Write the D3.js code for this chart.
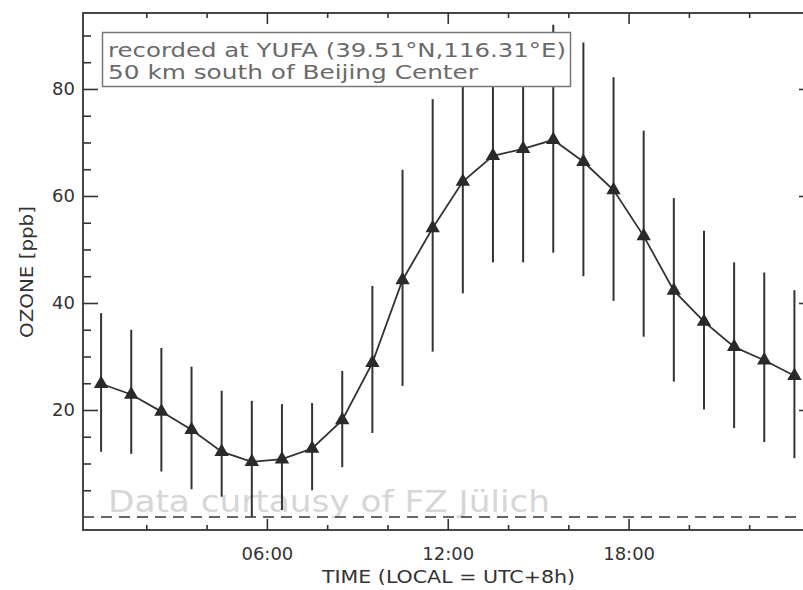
<!DOCTYPE html>
<html>
<head>
<meta charset="utf-8">
<script src="https://cdn.jsdelivr.net/npm/d3@7"></script>
<style>
    body { margin: 0; background: #fff; }
    svg { display: block; }
</style>
</head>
<body>
<div id="chart"></div>
<script>
// hourly means (local time, bin centres) with spread bars
const hours = [0.5, 1.5, 2.5, 3.5, 4.5, 5.5, 6.5, 7.5, 8.5, 9.5, 10.5, 11.5,
    12.5, 13.5, 14.5, 15.5, 16.5, 17.5, 18.5, 19.5, 20.5, 21.5, 22.5, 23.5]
const ozone = [24.9, 22.9, 19.7, 16.3, 12.2, 10.3, 10.8, 12.8, 18.1, 28.8, 44.3, 54.0,
    62.7, 67.5, 68.8, 70.5, 66.4, 61.1, 52.5, 42.3, 36.5, 31.8, 29.3, 26.4]
const upper = [38.1, 35.0, 31.6, 28.1, 23.6, 21.7, 21.1, 21.3, 27.3, 43.2, 64.9, 78.1,
    84.0, 87.5, 90.0, 92.0, 88.7, 82.2, 72.2, 59.6, 53.5, 47.6, 45.7, 42.4]
const lower = [12.2, 11.8, 8.5, 5.2, 3.8, 0.0, 1.3, 5.0, 9.3, 15.7, 24.5, 30.9,
    41.8, 47.6, 47.6, 49.4, 45.0, 40.4, 33.7, 25.3, 20.1, 16.6, 14.0, 11.0]

const x_major = [6, 12, 18]
const x_minor = [2, 4, 8, 10, 14, 16, 20, 22]
const x_labels = ['06:00', '12:00', '18:00']
const y_major = [20, 40, 60, 80]
const y_minor = [5, 10, 15, 25, 30, 35, 45, 50, 55, 65, 70, 75, 85, 90]

const note_lines = [
    'recorded at YUFA (39.51\u00B0N,116.31\u00B0E)',
    '50 km south of Beijing Center'
]
const watermark = 'Data curtausy of FZ J\u00FClich'

const ink = '#333'
const chart_width = 803
const chart_height = 590
const plot_left = 83, plot_right = 814, plot_top = 13, plot_bottom = 530

var svg = d3.select('#chart')
    .append('svg')
    .attr('width', chart_width)
    .attr('height', chart_height)
    .style('font-family', '"DejaVu Sans", sans-serif')

// Scales
var x_scale = d3.scaleLinear()
    .domain([-0.1, 24.15])
    .range([plot_left, plot_right])
var y_scale = d3.scaleLinear()
    .domain([-2.43, 94.2])
    .range([plot_bottom, plot_top])

// Watermark behind everything
svg.append('text')
    .attr('x', 108)
    .attr('y', 512)
    .attr('textLength', 442)
    .attr('lengthAdjust', 'spacingAndGlyphs')
    .style('font-size', '31px')
    .attr('fill', '#d6d6d6')
    .text(watermark)

// zero line
svg.append('line')
    .attr('x1', plot_left)
    .attr('x2', plot_right)
    .attr('y1', y_scale(0))
    .attr('y2', y_scale(0))
    .attr('stroke', ink)
    .attr('stroke-width', 1.6)
    .attr('stroke-dasharray', '11,7')

// Error bars
svg.append('g')
    .selectAll('line')
    .data(hours)
    .enter()
    .append('line')
    .attr('x1', function(d){ return x_scale(d) })
    .attr('x2', function(d){ return x_scale(d) })
    .attr('y1', function(d, i){ return y_scale(upper[i]) })
    .attr('y2', function(d, i){ return y_scale(lower[i]) })
    .attr('stroke', ink)
    .attr('stroke-width', 2)

// Mean line
var line = d3.line()
    .x(function(d){ return x_scale(d) })
    .y(function(d, i){ return y_scale(ozone[i]) })
svg.append('path')
    .datum(hours)
    .attr('d', line)
    .attr('fill', 'none')
    .attr('stroke', ink)
    .attr('stroke-width', 1.8)

// Triangles
svg.append('g')
    .selectAll('path')
    .data(hours)
    .enter()
    .append('path')
    .attr('d', d3.symbol().type(d3.symbolTriangle).size(90))
    .attr('transform', function(d, i){
        return 'translate(' + x_scale(d) + ',' + y_scale(ozone[i]) + ')'
    })
    .attr('fill', '#2a2a2a')

// Note box
var note = svg.append('g')
note.append('rect')
    .attr('x', 102.5)
    .attr('y', 32.5)
    .attr('width', 468)
    .attr('height', 54)
    .attr('fill', '#fff')
    .attr('stroke', '#777')
    .attr('stroke-width', 1.5)
note.selectAll('text')
    .data(note_lines)
    .enter()
    .append('text')
    .attr('x', 108)
    .attr('y', function(d, i){ return 57 + i * 22 })
    .attr('textLength', function(d, i){ return i == 0 ? 458 : 370 })
    .attr('lengthAdjust', 'spacingAndGlyphs')
    .style('font-size', '20px')
    .attr('fill', '#6a6a6a')
    .text(function(d){ return d })

// Axes (ticks point inward)
function style_axis(g){
    g.select('.domain').remove()
    g.selectAll('line').attr('stroke', ink).attr('stroke-width', 1.6)
    g.selectAll('text').attr('fill', ink)
        .style('font-family', '"DejaVu Sans", sans-serif')
        .style('font-size', '18px')
}

svg.append('g')
    .attr('transform', 'translate(0,' + plot_bottom + ')')
    .call(d3.axisBottom(x_scale).tickValues(x_major).tickSize(-11).tickPadding(17)
        .tickFormat(function(d, i){ return x_labels[i] }))
    .call(style_axis)
svg.append('g')
    .attr('transform', 'translate(0,' + plot_bottom + ')')
    .call(d3.axisBottom(x_scale).tickValues(x_minor).tickSize(-5).tickFormat(''))
    .call(style_axis)
svg.append('g')
    .attr('transform', 'translate(0,' + plot_top + ')')
    .call(d3.axisTop(x_scale).tickValues(x_major).tickSize(-11).tickFormat(''))
    .call(style_axis)
svg.append('g')
    .attr('transform', 'translate(0,' + plot_top + ')')
    .call(d3.axisTop(x_scale).tickValues(x_minor).tickSize(-5).tickFormat(''))
    .call(style_axis)

svg.append('g')
    .attr('transform', 'translate(' + plot_left + ',0)')
    .call(d3.axisLeft(y_scale).tickValues(y_major).tickSize(-15).tickPadding(8)
        .tickFormat(d3.format('d')))
    .call(style_axis)
svg.append('g')
    .attr('transform', 'translate(' + plot_left + ',0)')
    .call(d3.axisLeft(y_scale).tickValues(y_minor).tickSize(-8).tickFormat(''))
    .call(style_axis)
svg.append('g')
    .attr('transform', 'translate(' + plot_right + ',0)')
    .call(d3.axisRight(y_scale).tickValues(y_major).tickSize(-15).tickFormat(''))
    .call(style_axis)
svg.append('g')
    .attr('transform', 'translate(' + plot_right + ',0)')
    .call(d3.axisRight(y_scale).tickValues(y_minor).tickSize(-8).tickFormat(''))
    .call(style_axis)

// Frame
svg.append('rect')
    .attr('x', plot_left)
    .attr('y', plot_top)
    .attr('width', plot_right - plot_left)
    .attr('height', plot_bottom - plot_top)
    .attr('fill', 'none')
    .attr('stroke', ink)
    .attr('stroke-width', 1.8)

// Axis titles
svg.append('text')
    .attr('x', 322)
    .attr('y', 583)
    .attr('textLength', 253)
    .attr('lengthAdjust', 'spacingAndGlyphs')
    .attr('fill', ink)
    .style('font-size', '17px')
    .text('TIME (LOCAL = UTC+8h)')

svg.append('text')
    .attr('transform', 'translate(33,338) rotate(-90)')
    .attr('textLength', 132)
    .attr('lengthAdjust', 'spacingAndGlyphs')
    .attr('fill', ink)
    .style('font-size', '17px')
    .text('OZONE [ppb]')
</script>
</body>
</html>
